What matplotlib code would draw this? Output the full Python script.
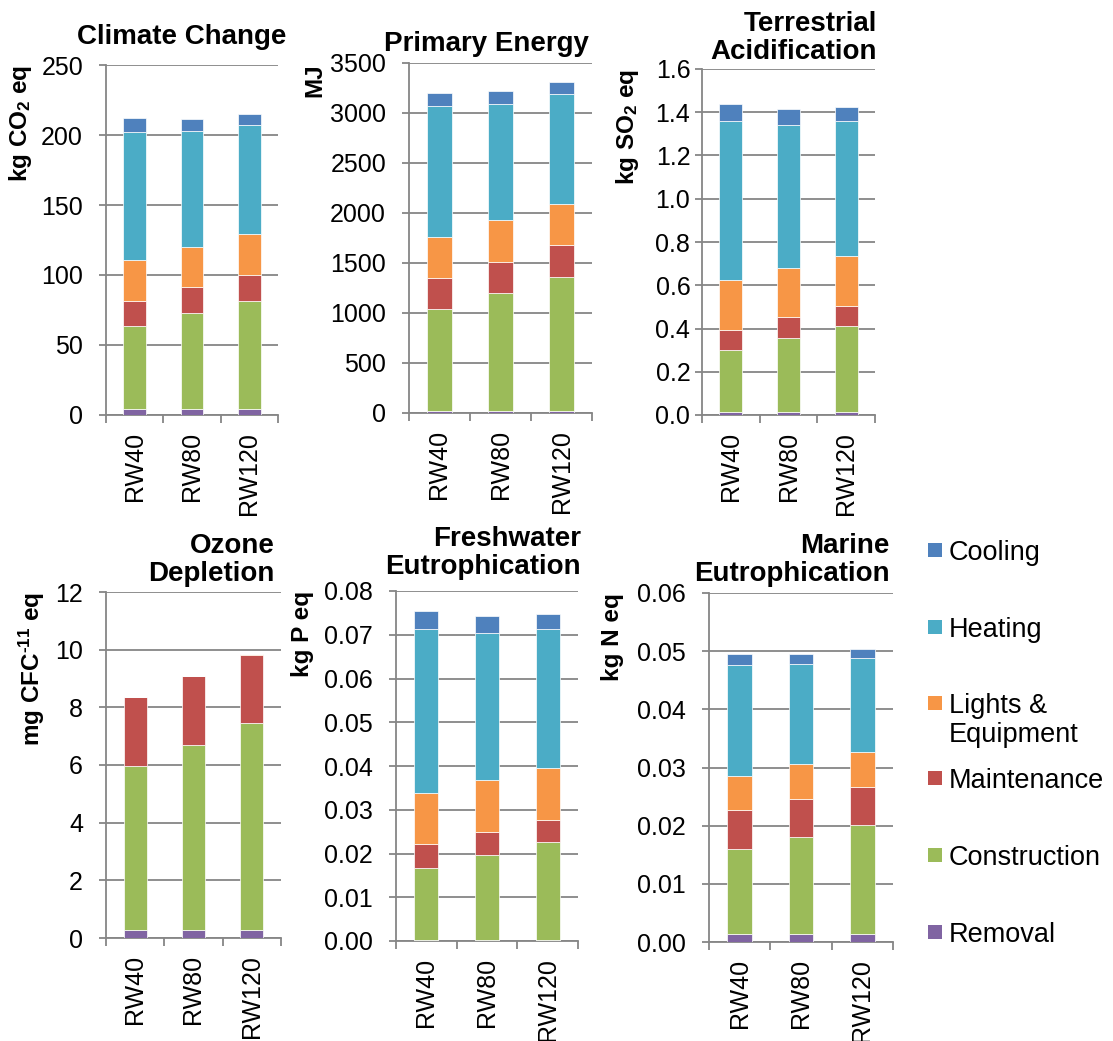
import matplotlib
matplotlib.use("Agg")
import matplotlib.pyplot as plt
import matplotlib.transforms as mtransforms
from matplotlib.patches import Rectangle
from matplotlib.ticker import MultipleLocator, FormatStrFormatter, FixedLocator

plt.rcParams['font.family'] = ['Liberation Sans', 'DejaVu Sans']
plt.rcParams['mathtext.fontset'] = 'custom'
plt.rcParams['mathtext.rm'] = 'Liberation Sans'
plt.rcParams['mathtext.bf'] = 'Liberation Sans:bold'
plt.rcParams['mathtext.it'] = 'Liberation Sans:italic'

scenarios = ["RW40", "RW80", "RW120"]
stages = ["Removal", "Construction", "Maintenance", "Lights & Equipment", "Heating", "Cooling"]
stage_colors = ["#8064A2", "#9BBB59", "#C0504D", "#F79646", "#4BACC6", "#4F81BD"]
legend_labels = ["Cooling", "Heating", "Lights &\nEquipment", "Maintenance", "Construction", "Removal"]

# Life-cycle results per stage (rows follow `stages`, columns follow `scenarios`)
climate_change = [
    [4.0, 4.0, 4.0],
    [59.6, 69.1, 77.7],
    [18.1, 18.1, 18.3],
    [29.0, 28.8, 29.0],
    [91.3, 82.6, 78.0],
    [10.0, 8.8, 8.2],
]
primary_energy = [
    [23, 23, 23],
    [1012, 1175, 1338],
    [319, 316, 319],
    [409, 412, 409],
    [1304, 1168, 1105],
    [133, 130, 113],
]
terrestrial_acidification = [
    [0.014, 0.014, 0.014],
    [0.287, 0.344, 0.398],
    [0.093, 0.093, 0.094],
    [0.231, 0.230, 0.230],
    [0.735, 0.660, 0.624],
    [0.077, 0.076, 0.066],
]
ozone_depletion = [
    [0.27, 0.27, 0.27],
    [5.71, 6.42, 7.18],
    [2.39, 2.41, 2.37],
    [0.0, 0.0, 0.03],
    [0.0, 0.0, 0.0],
    [0.0, 0.0, 0.0],
]
freshwater_eutrophication = [
    [0.0002, 0.0002, 0.0002],
    [0.01656, 0.01946, 0.02235],
    [0.00549, 0.00525, 0.00518],
    [0.01155, 0.01179, 0.01181],
    [0.0376, 0.0338, 0.03186],
    [0.0041, 0.0037, 0.0033],
]
marine_eutrophication = [
    [0.00143, 0.00143, 0.00143],
    [0.0145, 0.01662, 0.01863],
    [0.00676, 0.00659, 0.00659],
    [0.00585, 0.00596, 0.00596],
    [0.01902, 0.01714, 0.01616],
    [0.00195, 0.00177, 0.00166],
]

W, H = 1113, 1041
fig = plt.figure(figsize=(W / 100, H / 100), dpi=100)
GRAY = "#868686"

panels = [
    # data, title, ylabel, ymax, step, fmt, (left, right, top, bottom) px, label x, tick pad, title dx, title dy
    (climate_change, "Climate Change", r"kg CO$_\mathbf{2}$ eq", 250, 50, "%d",
     (106, 278, 65, 415), -0.42, 11.5, 8, 15),
    (primary_energy, "Primary Energy", "MJ", 3500, 500, "%d",
     (409, 592, 63, 413), -0.45, 11.5, -3, 6),
    (terrestrial_acidification, "Terrestrial\nAcidification", r"kg SO$_\mathbf{2}$ eq", 1.6, 0.2, "%.1f",
     (702, 875, 69, 415), -0.35, 3.4, 2, 4),
    (ozone_depletion, "Ozone\nDepletion", "mg CFC$^\\mathbf{\u201011}$ eq", 12, 2, "%d",
     (106, 281, 592, 938), -0.34, 11.5, -6, 5),
    (freshwater_eutrophication, "Freshwater\nEutrophication", "kg P eq", 0.08, 0.01, "%.2f",
     (396, 578, 591, 941), -0.45, 11.5, 3, 11),
    (marine_eutrophication, "Marine\nEutrophication", "kg N eq", 0.06, 0.01, "%.2f",
     (709, 893, 593, 942), -0.46, 11.5, -3, 6),
]

x = list(range(len(scenarios)))
for data, title, ylabel, ymax, step, fmt, (l, r, t, b), lab_x, tpad, tdx, tdy in panels:
    ax = fig.add_axes([l / W, 1 - b / H, (r - l) / W, (b - t) / H])
    bottoms = [0.0] * len(scenarios)
    for vals, color in zip(data, stage_colors):
        ax.bar(x, vals, width=0.4, bottom=bottoms, color=color,
               edgecolor="white", linewidth=0.5, zorder=3)
        bottoms = [bb + v for bb, v in zip(bottoms, vals)]

    ax.set_xlim(-0.5, 2.5)
    ax.set_ylim(0, ymax)
    ax.yaxis.set_major_locator(MultipleLocator(step))
    ax.yaxis.set_major_formatter(FormatStrFormatter(fmt))
    ax.grid(axis="y", color=GRAY, linewidth=1.3, zorder=0)
    ax.set_axisbelow(True)

    for side in ("top", "right"):
        ax.spines[side].set_visible(False)
    for side in ("left", "bottom"):
        ax.spines[side].set_color(GRAY)
        ax.spines[side].set_linewidth(1.3)

    ax.set_xticks(x)
    ax.set_xticklabels(scenarios, rotation=90, fontsize=18)
    ax.xaxis.set_minor_locator(FixedLocator([-0.5, 0.5, 1.5, 2.5]))
    ax.tick_params(axis="x", which="major", length=0, pad=12)
    ax.tick_params(axis="x", which="minor", length=6, width=1.3, color=GRAY)
    ax.tick_params(axis="y", length=5, width=1.3, color=GRAY, labelsize=18, pad=tpad)

    ax.set_ylabel(ylabel, fontsize=17.5, fontweight="bold", loc="top")
    ax.yaxis.set_label_coords(lab_x, 1.0)

    offset = mtransforms.ScaledTranslation(tdx / 100, tdy / 100, fig.dpi_scale_trans)
    ax.text(1.0, 1.0, title, transform=ax.transAxes + offset, ha="right", va="bottom",
            multialignment="right", fontsize=20, fontweight="bold", linespacing=1.1)

# Legend drawn as a column of swatches with labels
legend_baselines = [560, 637, 713, 788, 865, 942]
legend_colors = stage_colors[::-1]
for label, color, yb in zip(legend_labels, legend_colors, legend_baselines):
    fig.patches.append(Rectangle((928 / W, 1 - (yb - 3) / H), 14 / W, 14 / H,
                                 transform=fig.transFigure, facecolor=color, edgecolor="none"))
    lines = label.split("\n")
    for i, line in enumerate(lines):
        fig.text(949 / W, 1 - (yb + 29 * i) / H, line, fontsize=19.5, va="baseline", ha="left")

fig.savefig("out.png", dpi=100)
